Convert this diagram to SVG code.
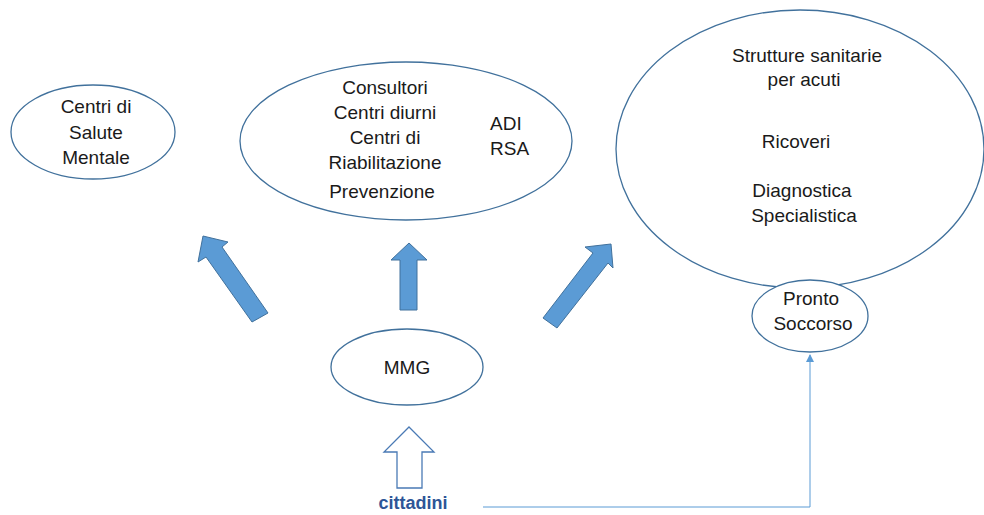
<svg xmlns="http://www.w3.org/2000/svg" width="984" height="515" viewBox="0 0 984 515">
<defs>
<style>
.node{fill:#fff;stroke:#41719c;stroke-width:1.3}
.t{font-family:"Liberation Sans",Arial,sans-serif;font-size:19px;fill:#1a1a1a}
.arrow{fill:#5b9bd5;stroke:#41719c;stroke-width:1}
.conn{fill:none;stroke:#5b9bd5;stroke-width:1}
</style>
<marker id="ah" markerWidth="8" markerHeight="8" refX="7" refY="4" orient="auto" markerUnits="userSpaceOnUse">
<path d="M0,0 L8,4 L0,8 Z" fill="#5b9bd5"/>
</marker>
</defs>
<rect width="984" height="515" fill="#fff"/>
<g id="connectors">
<polygon class="arrow" points="203,236 228,242 222,247 268,313 252,322 206,257 198,262"/>
<polygon class="arrow" points="409,243 427,260 417,260 417,310 400,310 400,260 391,260"/>
<polygon class="arrow" points="611,244 613,268 608,263 557,328 543,318 593,253 585,247"/>
<polygon points="409,427 434,452 422,452 422,488 397,488 397,452 384,452" fill="#fff" stroke="#4a7ab5" stroke-width="1.3"/>
<path class="conn" d="M483,507 H810 V355" marker-end="url(#ah)"/>
</g>
<g id="csm">
<ellipse class="node" cx="93" cy="132" rx="82" ry="47"/>
<text class="t" text-anchor="middle" x="96" y="113">Centri di</text>
<text class="t" text-anchor="middle" x="96" y="139">Salute</text>
<text class="t" text-anchor="middle" x="96" y="164">Mentale</text>
</g>
<g id="territorio">
<ellipse class="node" cx="406" cy="141" rx="166" ry="79"/>
<text class="t" text-anchor="middle" x="385" y="94">Consultori</text>
<text class="t" text-anchor="middle" x="385" y="119">Centri diurni</text>
<text class="t" text-anchor="middle" x="385" y="144">Centri di</text>
<text class="t" text-anchor="middle" x="385" y="169">Riabilitazione</text>
<text class="t" text-anchor="middle" x="382" y="198">Prevenzione</text>
<text class="t" x="490" y="130">ADI</text>
<text class="t" x="490" y="155">RSA</text>
</g>
<g id="acuti">
<ellipse class="node" cx="800" cy="149" rx="184" ry="139"/>
<text class="t" text-anchor="middle" x="807" y="62">Strutture sanitarie</text>
<text class="t" text-anchor="middle" x="804" y="86">per acuti</text>
<text class="t" text-anchor="middle" x="796" y="148">Ricoveri</text>
<text class="t" text-anchor="middle" x="802" y="197">Diagnostica</text>
<text class="t" text-anchor="middle" x="804" y="222">Specialistica</text>
</g>
<g id="ps">
<ellipse class="node" cx="810" cy="316" rx="58" ry="36"/>
<text class="t" text-anchor="middle" x="811" y="305">Pronto</text>
<text class="t" text-anchor="middle" x="813" y="330">Soccorso</text>
</g>
<g id="mmg">
<ellipse class="node" cx="407" cy="367" rx="76" ry="38"/>
<text class="t" text-anchor="middle" x="407" y="374">MMG</text>
</g>
<g id="cittadini">
<text text-anchor="middle" x="413" y="509" font-family="'Liberation Sans',Arial,sans-serif" font-size="18" font-weight="bold" fill="#2e5597">cittadini</text>
</g>
</svg>
